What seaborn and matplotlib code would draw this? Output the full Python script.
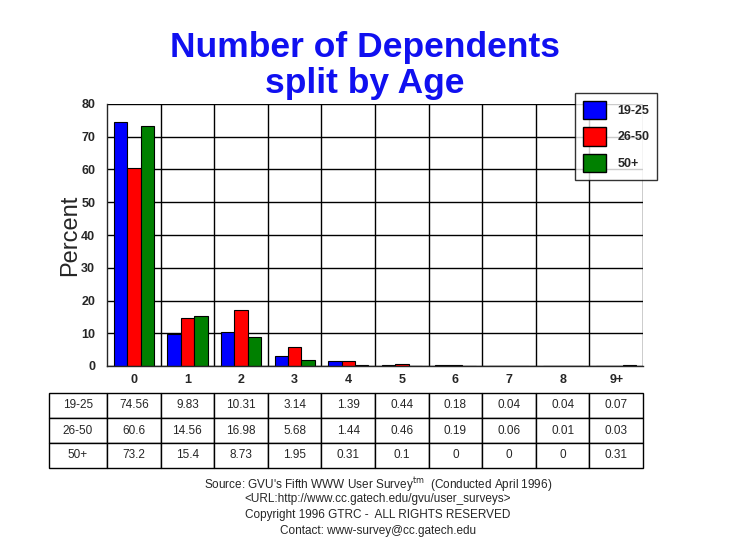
import pandas as pd
import numpy as np
import matplotlib
matplotlib.use("Agg")
import matplotlib.pyplot as plt
import matplotlib.ticker as mticker
from matplotlib.patches import Patch
import seaborn as sns

categories = ["0", "1", "2", "3", "4", "5", "6", "7", "8", "9+"]
groups = ["19-25", "26-50", "50+"]
vals_19_25 = [74.56, 9.83, 10.31, 3.14, 1.39, 0.44, 0.18, 0.04, 0.04, 0.07]
vals_26_50 = [60.6, 14.56, 16.98, 5.68, 1.44, 0.46, 0.19, 0.06, 0.01, 0.03]
vals_50_up = [73.2, 15.4, 8.73, 1.95, 0.31, 0.1, 0, 0, 0, 0.31]
table_text = [
    ["74.56", "9.83", "10.31", "3.14", "1.39", "0.44", "0.18", "0.04", "0.04", "0.07"],
    ["60.6", "14.56", "16.98", "5.68", "1.44", "0.46", "0.19", "0.06", "0.01", "0.03"],
    ["73.2", "15.4", "8.73", "1.95", "0.31", "0.1", "0", "0", "0", "0.31"],
]
colors = ["#0000FF", "#FF0000", "#008000"]

df = pd.DataFrame({
    "dependents": categories * 3,
    "age": np.repeat(groups, len(categories)),
    "percent": vals_19_25 + vals_26_50 + vals_50_up,
})

sns.set_style("white")
plt.rcParams["font.family"] = ["Liberation Sans", "DejaVu Sans"]

W, H = 729, 553
fig = plt.figure(figsize=(W / 100, H / 100), dpi=100)
ax = fig.add_axes([107 / W, 1 - 366 / H, 536 / W, 262 / H])

sns.barplot(
    data=df, x="dependents", y="percent", hue="age",
    order=categories, hue_order=groups, palette=colors, saturation=1,
    width=0.75, edgecolor="black", linewidth=0.8, ax=ax, legend=False,
)

ax.set_xlim(-0.5, 9.5)
ax.set_ylim(0, 80)
ax.yaxis.set_major_locator(mticker.MultipleLocator(10))
ax.yaxis.set_minor_locator(mticker.MultipleLocator(2))
ax.grid(True, axis="y", color="black", linewidth=1)
for xb in np.arange(0.5, 9.6, 1):
    ax.axvline(xb, color="black", linewidth=1, zorder=0)
ax.set_axisbelow(True)

for s in ["top", "right"]:
    ax.spines[s].set_visible(False)
ax.spines["left"].set_linewidth(1)
ax.spines["bottom"].set_linewidth(1)

# x ticks: boundary marks below, labels at centers
ax.set_xticks(np.arange(-0.5, 9.6, 1), minor=True)
ax.set_xticks(range(len(categories)))
ax.set_xticklabels(categories, fontsize=9, fontweight="bold")
ax.tick_params(axis="x", which="major", length=0, pad=6)
ax.tick_params(axis="x", which="minor", length=7, width=1, direction="out", color="black")
ax.tick_params(axis="y", which="major", length=5, width=1, direction="out", labelsize=9)
ax.tick_params(axis="y", which="minor", length=3, width=1, direction="out")
for lbl in ax.get_yticklabels():
    lbl.set_fontweight("bold")
ax.set_xlabel("")
ax.set_ylabel("Percent", fontsize=17, labelpad=0)

# Title
fig.text(0.5, 1 - 57 / H, "Number of Dependents", ha="center", va="baseline",
         fontsize=25.5, fontweight="bold", color="#1010F0")
fig.text(0.5, 1 - 93 / H, "split by Age", ha="center", va="baseline",
         fontsize=25.5, fontweight="bold", color="#1010F0")

# Legend
handles = [Patch(facecolor=c, edgecolor="black", label=g) for c, g in zip(colors, groups)]
leg = fig.legend(handles=handles, loc="upper left",
                 bbox_to_anchor=(575 / W, 1 - 93 / H), borderaxespad=0, frameon=True,
                 fancybox=False, edgecolor="black", fontsize=9,
                 handlelength=1.9, handleheight=1.9, labelspacing=0.65,
                 borderpad=0.6, handletextpad=0.9)
leg.get_frame().set_linewidth(1)
for t in leg.get_texts():
    t.set_fontweight("bold")

# Data table below the plot
cell_text = [[g] + row for g, row in zip(groups, table_text)]
tab_w = 643 - 49
col_w = [58 / tab_w] + [536 / 10 / tab_w] * 10
tab = ax.table(cellText=cell_text, colWidths=col_w, cellLoc="center",
               bbox=[(49 - 107) / 536, -(468 - 366) / 262, tab_w / 536, 75 / 262])
tab.auto_set_font_size(False)
tab.set_fontsize(8.5)
for cell in tab.get_celld().values():
    cell.set_linewidth(1)
    cell.set_edgecolor("black")

# Footer
footer = [
    ("Source: GVU's Fifth WWW User Survey$^{\\mathrm{tm}}$  (Conducted April 1996)", 489),
    ("<URL:http://www.cc.gatech.edu/gvu/user_surveys>", 502),
    ("Copyright 1996 GTRC -  ALL RIGHTS RESERVED", 518),
    ("Contact: www-survey@cc.gatech.edu", 534),
]
for txt, yy in footer:
    fig.text(378 / W, 1 - yy / H, txt, ha="center", va="baseline", fontsize=8.5)

fig.savefig("out.png", dpi=100)
